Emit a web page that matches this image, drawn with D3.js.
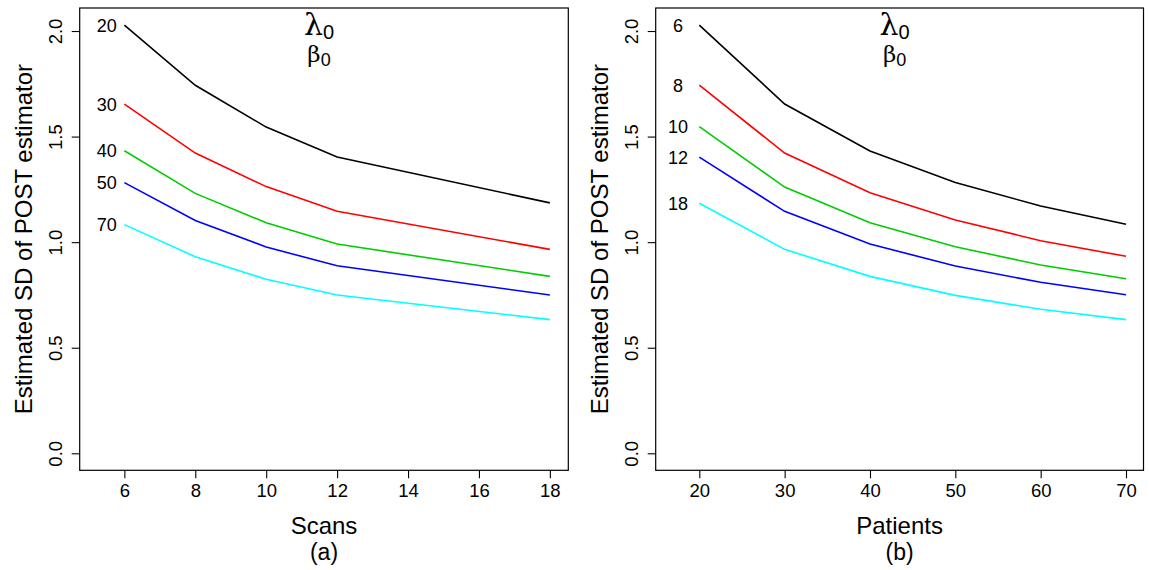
<!DOCTYPE html>
<html><head><meta charset="utf-8">
<script src="https://cdn.jsdelivr.net/npm/d3@7"></script>
<style>body{margin:0;background:#fff}svg{display:block}text{font-family:"Liberation Sans",Arial,sans-serif;fill:#000}</style>
</head><body>
<script>
// ---- data ----
const scans = [6, 8, 10, 12, 18];
const patients = [20, 30, 40, 50, 60, 70];
const patientLevels = ["20", "30", "40", "50", "70"];   // curve labels, panel (a)
const scanLevels = ["6", "8", "10", "12", "18"];         // curve labels, panel (b)
const seriesColors = ["#000000", "#FF0000", "#00CD00", "#0000FF", "#00FFFF"];
// panel (a): SD vs scans, one series per number of patients
const sdP20 = [2.028, 1.743, 1.545, 1.403, 1.186];
const sdP30 = [1.654, 1.422, 1.263, 1.146, 0.966];
const sdP40 = [1.433, 1.231, 1.092, 0.991, 0.838];
const sdP50 = [1.282, 1.103, 0.977, 0.888, 0.750];
const sdP70 = [1.083, 0.931, 0.824, 0.750, 0.633];
// panel (b): SD vs patients, one series per number of scans
const sdS6  = [2.028, 1.654, 1.432, 1.283, 1.171, 1.085];
const sdS8  = [1.744, 1.422, 1.234, 1.105, 1.007, 0.933];
const sdS10 = [1.547, 1.261, 1.092, 0.978, 0.892, 0.827];
const sdS12 = [1.403, 1.146, 0.991, 0.887, 0.810, 0.751];
const sdS18 = [1.184, 0.966, 0.838, 0.748, 0.682, 0.633];
const yTicks = [0, 0.5, 1.0, 1.5, 2.0];
const xTicksA = [6, 8, 10, 12, 14, 16, 18];
const xTicksB = [20, 30, 40, 50, 60, 70];

const W = 1149, H = 570;
const svg = d3.select("body").append("svg").attr("width", W).attr("height", H);

const yScale = d3.scaleLinear().domain([-0.0805, 2.109]).range([470.3, 8]);

function panel(cfg) {
  const x = d3.scaleLinear().domain(cfg.xDomain).range([cfg.left, cfg.right]);
  const g = svg.append("g");
  const top = 8, bottom = 470.3;
  // lines
  const line = d3.line().x((d, i) => x(cfg.xs[i])).y(d => yScale(d));
  cfg.series.forEach((s, k) => {
    g.append("path").attr("d", line(s)).attr("fill", "none")
      .attr("stroke", seriesColors[k]).attr("stroke-width", 1.6);
    g.append("text").attr("x", x(cfg.labelX)).attr("y", yScale(s[0]) + 6.5)
      .attr("text-anchor", "middle").style("font-size", "18px").text(cfg.labels[k]);
  });
  // box
  g.append("rect").attr("x", cfg.left).attr("y", top)
    .attr("width", cfg.right - cfg.left).attr("height", bottom - top)
    .attr("fill", "none").attr("stroke", "#000").attr("stroke-width", 1.2);
  // x axis
  const xa = g.append("g").attr("transform", `translate(0,${bottom})`)
    .call(d3.axisBottom(x).tickValues(cfg.xTicks).tickSize(8).tickSizeOuter(0).tickPadding(6));
  xa.select(".domain").remove();
  xa.selectAll("text").style("font-size", "18.5px").style("font-family", "Liberation Sans, Arial, sans-serif");
  xa.selectAll("line").attr("stroke-width", 1.1);
  // y axis
  const ya = g.append("g").attr("transform", `translate(${cfg.left},0)`)
    .call(d3.axisLeft(yScale).tickValues(yTicks).tickFormat(d3.format(".1f")).tickSize(8).tickSizeOuter(0));
  ya.select(".domain").remove();
  ya.selectAll("line").attr("stroke-width", 1.1);
  ya.selectAll("text").attr("x", null).attr("dy", null)
    .attr("transform", "translate(-18,0) rotate(-90)")
    .attr("text-anchor", "middle").attr("y", 0)
    .style("font-size", "18.5px").style("font-family", "Liberation Sans, Arial, sans-serif");
  // axis titles
  const cx = (cfg.left + cfg.right) / 2;
  g.append("text").attr("transform", `translate(${cfg.left - 48},${(top + bottom) / 2}) rotate(-90)`)
    .attr("text-anchor", "middle").style("font-size", "24px").text("Estimated SD of POST estimator");
  g.append("text").attr("x", cx).attr("y", 534).attr("text-anchor", "middle")
    .style("font-size", "24px").text(cfg.xTitle);
  g.append("text").attr("x", cx).attr("y", 560).attr("text-anchor", "middle")
    .style("font-size", "23px").text(cfg.sub);
  // parameter heading
  const t1 = g.append("text").attr("x", cx - 5).attr("y", 35).attr("text-anchor", "middle");
  t1.append("tspan").style("font-family", "DejaVu Serif, serif").style("font-size", "30px").text("λ");
  t1.append("tspan").attr("dy", 4).style("font-size", "20px").text("0");
  const t2 = g.append("text").attr("x", cx - 5).attr("y", 62).attr("text-anchor", "middle");
  t2.append("tspan").style("font-family", "DejaVu Serif, serif").style("font-size", "23px").text("β");
  t2.append("tspan").attr("dy", 4).style("font-size", "18px").text("0");
}

panel({ left: 79.7, right: 568.3, xDomain: [4.74, 18.52], xs: scans, xTicks: xTicksA,
  series: [sdP20, sdP30, sdP40, sdP50, sdP70], labels: patientLevels, labelX: 5.5,
  xTitle: "Scans", sub: "(a)" });
panel({ left: 655.7, right: 1143.5, xDomain: [14.89, 72.05], xs: patients, xTicks: xTicksB,
  series: [sdS6, sdS8, sdS10, sdS12, sdS18], labels: scanLevels, labelX: 17.5,
  xTitle: "Patients", sub: "(b)" });
</script>
</body></html>
